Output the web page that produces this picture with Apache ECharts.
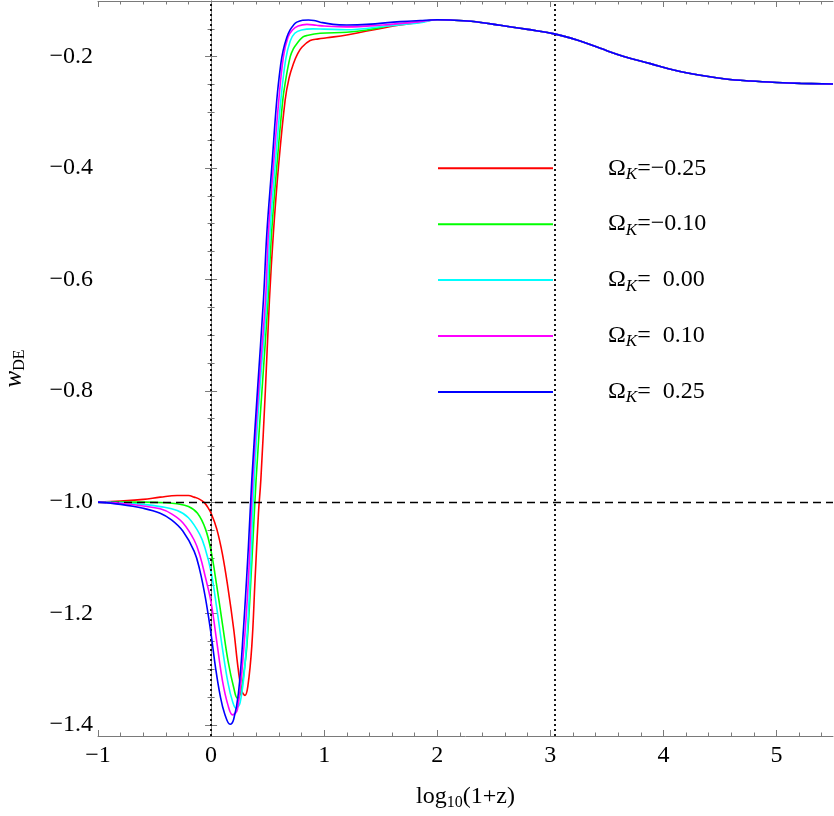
<!DOCTYPE html>
<html><head><meta charset="utf-8">
<script src="https://cdn.jsdelivr.net/npm/echarts@6/dist/echarts.min.js"></script>
<style>html,body{margin:0;padding:0;background:#fff}#c{width:834px;height:816px}</style>
</head><body><div id="c"></div>
<script>
// ---- tick labels ----
const xTicks = [-1, 0, 1, 2, 3, 4, 5];
const yTicks = [-1.4, -1.2, -1.0, -0.8, -0.6, -0.4, -0.2];
const xRange = [-1, 5.5];
const yRange = [-1.42, -0.1];
// reference lines
const refX = [0, 3.04];
const refY = [-1.0];
// legend labels (Omega_K values)
const omegaK = ['\u22120.25', '\u22120.10', '  0.00', '  0.10', '  0.25'];

// ---- series values ([log10(1+z), w_DE]) ----
const tailCommon = [[2.0,-0.1338],[2.115,-0.1342],[2.3,-0.1365],[2.558,-0.1435],[2.8,-0.151],[3.035,-0.159],[3.25,-0.171],[3.442,-0.185],[3.65,-0.1995],[3.885,-0.2125],[4.1,-0.2245],[4.327,-0.2335],[4.55,-0.240],[4.77,-0.2437],[5.0,-0.2463],[5.212,-0.2479],[5.5,-0.249]];

const redPts = [[-1,-1.0],[-0.8,-0.998],[-0.6,-0.995],[-0.45,-0.991],[-0.3,-0.988],[-0.2,-0.988],[-0.15,-0.991],[-0.1,-0.995],[-0.06,-1.001],[-0.03,-1.009],[0.0,-1.02],[0.05,-1.048],[0.1,-1.093],[0.15,-1.155],[0.2,-1.228],[0.24,-1.3],[0.27,-1.338],[0.3,-1.347],[0.325,-1.331],[0.36,-1.259],[0.389,-1.139],[0.419,-1.02],[0.44,-0.96],[0.48,-0.80],[0.516,-0.637],[0.551,-0.517],[0.596,-0.398],[0.655,-0.278],[0.69,-0.238],[0.728,-0.2126],[0.765,-0.195],[0.803,-0.183],[0.876,-0.171],[0.95,-0.168],[1.024,-0.166],[1.2,-0.161],[1.378,-0.154],[1.673,-0.143],[1.85,-0.138]];

const greenPts = [[-1,-1.0],[-0.6,-1.0],[-0.4,-1.001],[-0.3,-1.003],[-0.2,-1.008],[-0.12,-1.02],[-0.05,-1.048],[0.0,-1.088],[0.05,-1.15],[0.1,-1.218],[0.15,-1.285],[0.2,-1.333],[0.233,-1.352],[0.258,-1.345],[0.28,-1.322],[0.316,-1.259],[0.36,-1.109],[0.398,-0.96],[0.45,-0.80],[0.504,-0.637],[0.535,-0.517],[0.581,-0.398],[0.634,-0.278],[0.655,-0.248],[0.70,-0.200],[0.73,-0.185],[0.758,-0.1767],[0.81,-0.165],[0.847,-0.162],[0.965,-0.158],[1.2,-0.156],[1.378,-0.152],[1.673,-0.141],[1.85,-0.137]];

const cyanPts = [[-1,-1.0],[-0.8,-1.001],[-0.6,-1.004],[-0.45,-1.008],[-0.3,-1.015],[-0.2,-1.028],[-0.1,-1.058],[-0.05,-1.085],[0.0,-1.125],[0.05,-1.19],[0.1,-1.262],[0.15,-1.325],[0.19,-1.358],[0.221,-1.37],[0.257,-1.36],[0.301,-1.289],[0.345,-1.139],[0.381,-0.96],[0.43,-0.80],[0.493,-0.637],[0.521,-0.517],[0.566,-0.398],[0.617,-0.278],[0.66,-0.205],[0.70,-0.172],[0.74,-0.158],[0.8,-0.152],[0.9,-0.150],[1.0,-0.1505],[1.2,-0.1516],[1.52,-0.1457],[1.85,-0.139]];

const magentaPts = [[-1,-1.0],[-0.8,-1.002],[-0.6,-1.007],[-0.45,-1.012],[-0.35,-1.021],[-0.25,-1.037],[-0.15,-1.068],[-0.1,-1.095],[-0.05,-1.135],[0.0,-1.18],[0.05,-1.25],[0.1,-1.32],[0.15,-1.365],[0.19,-1.382],[0.233,-1.372],[0.286,-1.271],[0.33,-1.139],[0.369,-0.96],[0.42,-0.80],[0.481,-0.637],[0.507,-0.517],[0.551,-0.398],[0.599,-0.278],[0.64,-0.2],[0.68,-0.165],[0.72,-0.152],[0.77,-0.145],[0.847,-0.142],[0.93,-0.1435],[1.0,-0.145],[1.2,-0.1465],[1.52,-0.143],[1.85,-0.137]];

const bluePts = [[-1,-1.0],[-0.8,-1.004],[-0.6,-1.011],[-0.45,-1.020],[-0.35,-1.032],[-0.25,-1.052],[-0.15,-1.088],[-0.1,-1.122],[-0.05,-1.172],[0.0,-1.237],[0.04,-1.298],[0.08,-1.347],[0.12,-1.38],[0.168,-1.399],[0.2,-1.39],[0.242,-1.343],[0.286,-1.229],[0.33,-1.08],[0.36,-0.96],[0.41,-0.80],[0.463,-0.637],[0.493,-0.517],[0.537,-0.398],[0.581,-0.278],[0.615,-0.215],[0.637,-0.189],[0.67,-0.165],[0.699,-0.152],[0.73,-0.143],[0.758,-0.138],[0.81,-0.1345],[0.861,-0.134],[0.91,-0.135],[0.965,-0.138],[1.08,-0.142],[1.2,-0.143],[1.378,-0.142],[1.673,-0.137],[1.85,-0.135]];

const colors = ['#ff0000', '#00ff00', '#00ffff', '#ff00ff', '#0000ff'];
const curves = [redPts, greenPts, cyanPts, magentaPts, bluePts];

// minor tick positions (between labelled ticks)
const xMinor = [];
xTicks.forEach(t => { for (let k = 1; k < 5; k++) { const v = +(t + 0.2 * k).toFixed(2); if (v < xRange[1]) xMinor.push(v); } });
const yMinor = [];
for (let v = -1.4; v < yRange[1] + 1e-9; v = +(v + 0.05).toFixed(2)) {
  if (!yTicks.some(t => Math.abs(t - v) < 1e-9)) yMinor.push(v);
}

const serif = "'Liberation Serif', 'Times New Roman', serif";
const axisColor = '#7a7a7a';
const fmtX = v => (v < 0 ? '\u2212' : '') + Math.abs(v);
const fmtY = v => (v < 0 ? '\u2212' : '') + Math.abs(v).toFixed(1);

function xAx(pos, ticks, len, major) {
  return {
    type: 'value', min: xRange[0], max: xRange[1], position: pos,
    axisLine: { show: major, lineStyle: { color: axisColor, width: 1 } },
    splitLine: { show: false },
    axisTick: { show: true, inside: true, length: len, customValues: ticks, lineStyle: { color: axisColor, width: 1 } },
    axisLabel: { show: false, customValues: ticks }
  };
}
function yAx(pos, ticks, len, major) {
  return {
    type: 'value', min: yRange[0], max: yRange[1], position: pos,
    axisLine: { show: major, lineStyle: { color: axisColor, width: 1 } },
    splitLine: { show: false },
    axisTick: { show: true, inside: true, length: len, customValues: ticks, lineStyle: { color: axisColor, width: 1 } },
    axisLabel: { show: false, customValues: ticks }
  };
}

const FS = 24;
const xMain = xAx('bottom', xTicks, 6, true);
xMain.axisLabel = { show: true, customValues: xTicks, formatter: fmtX, color: '#000', fontFamily: serif, fontSize: FS, margin: 8 };
xMain.name = '{a|log}{s|10}{a|(1+z)}';
xMain.nameLocation = 'middle';
xMain.nameGap = 46;
xMain.nameTextStyle = { fontFamily: serif, fontSize: FS, color: '#000',
  rich: { a: { fontFamily: serif, fontSize: FS, color: '#000' },
          s: { fontFamily: serif, fontSize: 16, color: '#000', padding: [13, 0, 0, 0] } } };

const yMain = yAx('left', yTicks, 6, true);
yMain.axisLabel = { show: true, customValues: yTicks, formatter: fmtY, color: '#000', fontFamily: serif, fontSize: FS, margin: 5 };
yMain.name = '{w|w}{s|DE}';
yMain.nameLocation = 'middle';
yMain.nameRotate = 90;
yMain.nameGap = 70;
yMain.nameTextStyle = { fontFamily: serif, fontSize: FS, color: '#000',
  rich: { w: { fontFamily: serif, fontSize: 25, fontStyle: 'italic', color: '#000' },
          s: { fontFamily: serif, fontSize: 16, color: '#000', padding: [12, 0, 0, 0] } } };

const series = curves.map((pts, i) => ({
  name: omegaK[i], type: 'line', data: pts.concat(tailCommon),
  showSymbol: false, symbol: 'none', smooth: 0.4,
  lineStyle: { color: colors[i], width: 1.6 }, itemStyle: { color: colors[i] },
  z: 2 + i
}));
series.push({
  name: 'ref', type: 'line', data: [], z: 10,
  markLine: {
    silent: true, symbol: ['none', 'none'], label: { show: false }, animation: false,
    data: refX.map(v => ({ xAxis: v, lineStyle: { color: '#000', width: 1.8, type: [2, 3] } }))
      .concat(refY.map(v => ({ yAxis: v, lineStyle: { color: '#000', width: 1.3, type: [8, 5] } })))
  }
});

const chart = echarts.init(document.getElementById('c'), null, { renderer: 'canvas' });
chart.setOption({
  animation: false,
  backgroundColor: '#fff',
  grid: { left: 98, right: 1, top: 1, bottom: 80, containLabel: false, outerBoundsMode: 'none' },
  xAxis: [xMain, xAx('bottom', xMinor, 3.5, false), xAx('top', xTicks, 6, true), xAx('top', xMinor, 3.5, false)],
  yAxis: [yMain, yAx('left', yMinor, 3.5, false), yAx('right', yTicks, 6, true), yAx('right', yMinor, 3.5, false)],
  legend: {
    orient: 'vertical', left: 437, top: 156.3, padding: 0,
    itemWidth: 115, itemHeight: 30, itemGap: 29.4,
    data: omegaK,
    itemStyle: { opacity: 0 },
    selectedMode: false,
    formatter: n => '{o|\u03A9}{k|K}{t|=' + n + '}',
    textStyle: { fontFamily: serif, fontSize: FS, color: '#000', padding: [0, 0, 0, 50],
      rich: { o: { fontFamily: serif, fontSize: FS, color: '#000' },
              k: { fontFamily: serif, fontSize: 17, fontStyle: 'italic', color: '#000', padding: [12, 0, 0, 0] },
              t: { fontFamily: serif, fontSize: FS, color: '#000' } } }
  },
  series: series
});
</script></body></html>
